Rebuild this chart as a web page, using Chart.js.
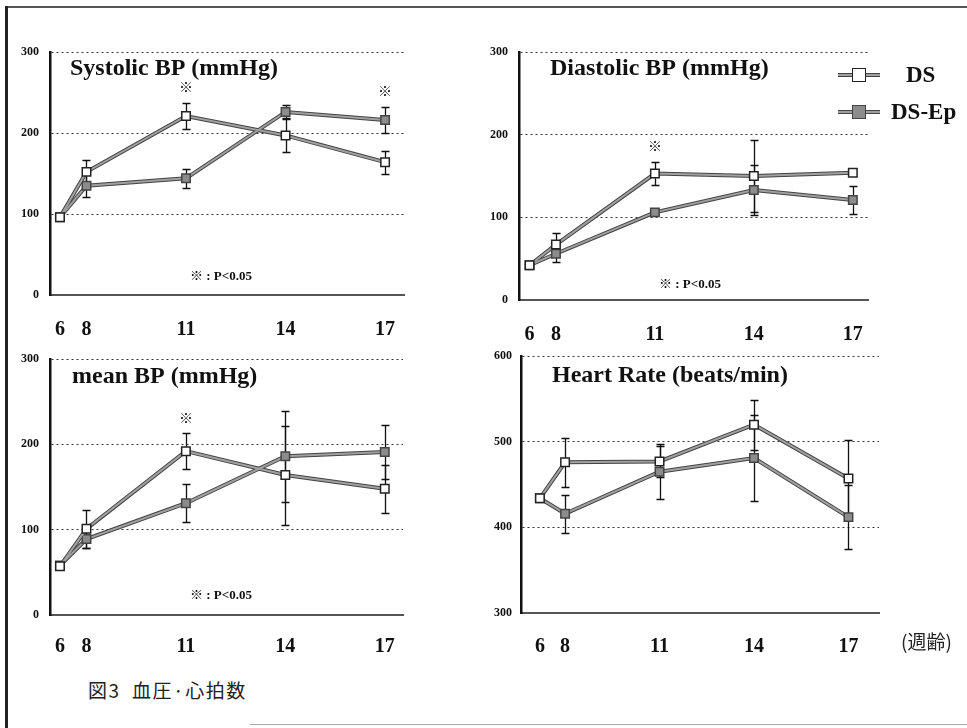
<!DOCTYPE html>
<html>
<head>
<meta charset="utf-8">
<script src="https://cdn.jsdelivr.net/npm/chart.js@4.4.1/dist/chart.umd.min.js"></script>
<style>
body { margin: 0; background: #fff; width: 967px; height: 728px; position: relative; overflow: hidden; font-family: "Liberation Serif", serif; }
canvas { position: absolute; }
.rule { position: absolute; }
.legline { position: absolute; height: 2px; background: #a0a0a0; border-top: 1px solid #444; border-bottom: 1px solid #444; }
.legbox { position: absolute; width: 12px; height: 12px; border: 1.5px solid #222; }
.legtext { position: absolute; font: bold 23px "Liberation Serif", serif; color: #111; line-height: 26px; }
.caption { position: absolute; left: 88px; top: 676px; font: 19px "Noto Sans CJK JP", sans-serif; color: #222; letter-spacing: 1.5px; }
.unit { position: absolute; left: 901px; top: 627px; font: 19px "Noto Sans CJK JP", sans-serif; color: #222; }
</style>
</head>
<body>
<div class="rule" style="left:6px;top:6px;width:961px;height:2px;background:#555;"></div>
<div class="rule" style="left:5px;top:6px;width:3px;height:722px;background:#222;"></div>
<div class="rule" style="left:250px;top:724px;width:717px;height:1px;background:#aaa;"></div>

<canvas id="sys" width="470" height="340" style="left:0;top:0;"></canvas>
<canvas id="dia" width="497" height="340" style="left:470px;top:0;"></canvas>
<canvas id="mean" width="470" height="330" style="left:0;top:340px;"></canvas>
<canvas id="hr" width="497" height="330" style="left:470px;top:340px;"></canvas>

<div class="legline" style="left:838px;top:73px;width:42px;"></div>
<div class="legbox" style="left:852px;top:68px;background:#fff;"></div>
<div class="legtext" style="left:906px;top:62px;">DS</div>
<div class="legline" style="left:838px;top:110px;width:42px;"></div>
<div class="legbox" style="left:852px;top:105px;background:#8c8c8c;border-color:#444;"></div>
<div class="legtext" style="left:891px;top:99px;">DS-Ep</div>

<div class="unit">(週齢)</div>
<div class="caption">図3&nbsp; 血圧·心拍数</div>

<script>
var weeks = [6, 8, 11, 14, 17];

var sysDS = [96, 152, 221, 197, 164];
var sysDSsd = [0, 15, 16, 20, 14];
var sysEp = [96, 135, 144, 226, 216];
var sysEpSd = [0, 14, 12, 8, 16];
var sysSig = [11, 17];

var diaDS = [42, 67, 153, 150, 154];
var diaDSsd = [0, 14, 14, 43, 0];
var diaEp = [42, 56, 106, 133, 121];
var diaEpSd = [0, 10, 3, 30, 17];
var diaSig = [11];

var meanDS = [57, 101, 192, 164, 148];
var meanDSsd = [0, 22, 21, 58, 28];
var meanEp = [58, 89, 131, 186, 191];
var meanEpSd = [0, 10, 22, 53, 32];
var meanSig = [11];

var hrDS = [434, 476, 477, 520, 457];
var hrDSsd = [0, 29, 18, 29, 45];
var hrEp = [434, 416, 465, 481, 412];
var hrEpSd = [0, 22, 32, 50, 37];
var hrSig = [];

var sigNote = '※ : P<0.05';

// the week axis is squeezed between 6 and 8 in the original figure
function weekPos(w) {
    return w < 8 ? 8 - (8 - w) * 0.4 : w;
}

function points(vals) {
    return weeks.map(function(w, i) { return {x: weekPos(w), y: vals[i]}; });
}

var errorBars = {
    id: 'errorBars',
    beforeDatasetsDraw: function(chart) {
        var ctx = chart.ctx, ys = chart.scales.y;
        ctx.save();
        ctx.strokeStyle = '#111';
        ctx.lineWidth = 1.3;
        chart.data.datasets.forEach(function(ds, i) {
            if (!ds.errors) return;
            var meta = chart.getDatasetMeta(i);
            meta.data.forEach(function(pt, j) {
                var e = ds.errors[j];
                if (!e) return;
                var v = ds.data[j].y;
                var top = Math.round(ys.getPixelForValue(v + e)) + 0.5;
                var bot = Math.round(ys.getPixelForValue(v - e)) + 0.5;
                var x = Math.round(pt.x) + 0.5;
                ctx.beginPath();
                ctx.moveTo(x, top); ctx.lineTo(x, bot);
                ctx.moveTo(x - 4, top); ctx.lineTo(x + 4, top);
                ctx.moveTo(x - 4, bot); ctx.lineTo(x + 4, bot);
                ctx.stroke();
            });
        });
        ctx.restore();
    }
};

var panelText = {
    id: 'panelText',
    afterDraw: function(chart, args, opts) {
        var ctx = chart.ctx, a = chart.chartArea;
        var xs = chart.scales.x, ys = chart.scales.y;
        ctx.save();
        ctx.fillStyle = '#111';
        ctx.textBaseline = 'alphabetic';
        ctx.font = 'bold 24px "Liberation Serif"';
        ctx.fillText(opts.title, a.left + opts.titleX, a.top + opts.titleY);

        ctx.textAlign = 'center';
        ctx.textBaseline = 'middle';
        ctx.font = '14px "Noto Sans CJK JP"';
        (opts.sig || []).forEach(function(w) {
            var i = weeks.indexOf(w);
            var top = -Infinity;
            chart.data.datasets.forEach(function(ds) {
                if (ds.errors) top = Math.max(top, ds.data[i].y + ds.errors[i]);
            });
            ctx.fillText('※', xs.getPixelForValue(weekPos(w)), ys.getPixelForValue(top) - 16);
        });

        if (opts.note) {
            ctx.textAlign = 'left';
            ctx.font = 'bold 13px "Liberation Serif", "Noto Sans CJK JP"';
            ctx.fillText(sigNote, a.left + 140, a.bottom - opts.noteY);
        }
        ctx.restore();
    }
};

function makePanel(id, p) {
    var canvas = document.getElementById(id);
    var W = canvas.width, H = canvas.height;
    var datasets = [
        {label: 'DS', data: points(p.ds), errors: p.dsSd, order: 1,
         borderColor: '#a0a0a0', borderWidth: 2, pointStyle: 'rect', pointRadius: 6,
         pointBackgroundColor: '#fff', pointBorderColor: '#222', pointBorderWidth: 1.5},
        {label: 'DS-Ep', data: points(p.ep), errors: p.epSd, order: 2,
         borderColor: '#a0a0a0', borderWidth: 2, pointStyle: 'rect', pointRadius: 6,
         pointBackgroundColor: '#8c8c8c', pointBorderColor: '#444', pointBorderWidth: 1.5},
        {data: points(p.ds), order: 3, borderColor: '#444', borderWidth: 4, pointRadius: 0},
        {data: points(p.ep), order: 4, borderColor: '#444', borderWidth: 4, pointRadius: 0}
    ];
    return new Chart(canvas, {
        type: 'line',
        data: {datasets: datasets},
        options: {
            responsive: false,
            animation: false,
            events: [],
            layout: {padding: {left: 0, top: p.area[1], right: W - p.area[2], bottom: 0}},
            elements: {line: {tension: 0}},
            scales: {
                x: {
                    type: 'linear',
                    min: p.xMin,
                    max: p.xMax,
                    afterBuildTicks: function(s) {
                        s.ticks = weeks.map(function(w) { return {value: weekPos(w)}; });
                    },
                    afterFit: function(s) { s.height = H - p.area[3]; },
                    grid: {display: false},
                    border: {display: true, color: '#555', width: 2},
                    ticks: {
                        autoSkip: false,
                        maxRotation: 0,
                        padding: p.tickPad,
                        color: '#111',
                        font: {family: 'Liberation Serif', size: 20, weight: 'bold'},
                        callback: function(v, i) { return String(weeks[i]); }
                    }
                },
                y: {
                    min: p.yMin,
                    max: p.yMax,
                    afterFit: function(s) { s.width = p.area[0]; },
                    grid: {color: '#333', lineWidth: 1, drawTicks: false},
                    border: {display: true, color: '#111', width: 2.5, dash: [2, 3]},
                    ticks: {
                        stepSize: 100,
                        padding: p.yPad,
                        color: '#111',
                        font: {family: 'Liberation Serif', size: 12, weight: 'bold'}
                    }
                }
            },
            plugins: {
                legend: {display: false},
                tooltip: {enabled: false},
                panelText: {title: p.title, titleX: p.titleX, titleY: p.titleY,
                            sig: p.sig, note: p.note, noteY: p.noteY}
            }
        },
        plugins: [errorBars, panelText]
    });
}

makePanel('sys', {
    area: [50, 52, 404, 295], xMin: 6.9, xMax: 17.57, yMin: 0, yMax: 300,
    ds: sysDS, dsSd: sysDSsd, ep: sysEp, epSd: sysEpSd, sig: sysSig,
    title: 'Systolic BP (mmHg)', titleX: 20, titleY: 23, note: true, noteY: 18,
    tickPad: 15, yPad: 11
});
makePanel('dia', {
    area: [49, 52, 398, 300], xMin: 6.88, xMax: 17.46, yMin: 0, yMax: 300,
    ds: diaDS, dsSd: diaDSsd, ep: diaEp, epSd: diaEpSd, sig: diaSig,
    title: 'Diastolic BP (mmHg)', titleX: 31, titleY: 23, note: true, noteY: 15,
    tickPad: 15, yPad: 11
});
makePanel('mean', {
    area: [50, 19, 403, 275], xMin: 6.9, xMax: 17.55, yMin: 0, yMax: 300,
    ds: meanDS, dsSd: meanDSsd, ep: meanEp, epSd: meanEpSd, sig: meanSig,
    title: 'mean BP (mmHg)', titleX: 22, titleY: 24, note: true, noteY: 19,
    tickPad: 12, yPad: 11
});
makePanel('hr', {
    area: [51, 15, 409, 273], xMin: 6.6, xMax: 17.97, yMin: 300, yMax: 600,
    ds: hrDS, dsSd: hrDSsd, ep: hrEp, epSd: hrEpSd, sig: hrSig,
    title: 'Heart Rate (beats/min)', titleX: 31, titleY: 26, note: false,
    tickPad: 14, yPad: 9
});
</script>
</body>
</html>
